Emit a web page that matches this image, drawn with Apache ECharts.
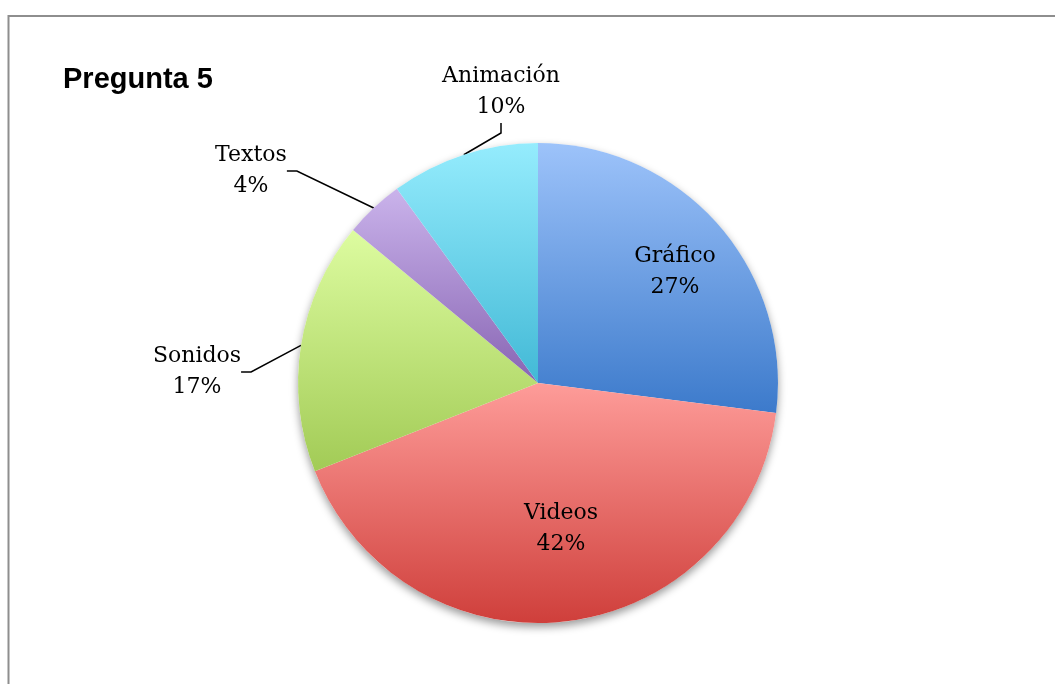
<!DOCTYPE html>
<html>
<head>
<meta charset="utf-8">
<title>Pregunta 5</title>
<script src="https://cdn.jsdelivr.net/npm/echarts@6/dist/echarts.min.js"></script>
<style>
  html, body { margin: 0; padding: 0; background: #ffffff; }
  #chart { width: 1055px; height: 684px; }
</style>
</head>
<body>
<div id="chart"></div>
<script>
// Answers to question 5, in percent, clockwise from 12 o'clock
const categories = ['Gráfico', 'Videos', 'Sonidos', 'Textos', 'Animación'];
const values = [27, 42, 17, 4, 10];

// Top / bottom colours of each slice's vertical gradient
const topColors = ['#9dc3fa', '#fe9c99', '#ddfca0', '#cab3eb', '#95ecfd'];
const bottomColors = ['#3c7acb', '#cf3f3b', '#a2cb56', '#8865b3', '#42b9d6'];

// Where each label block sits (centre of the two text lines)
const labelSpots = [
  { x: 675, y: 272 },
  { x: 561, y: 529 },
  { x: 197, y: 372 },
  { x: 251, y: 171 },
  { x: 501, y: 92 }
];
const outsideLabel = [false, false, true, true, true];

const total = values.reduce((a, b) => a + b, 0);
const pieCenter = [538, 383];
const pieRadius = 240;

const chart = echarts.init(document.getElementById('chart'));

const seriesData = categories.map((name, i) => ({
  name: name,
  value: values[i],
  itemStyle: {
    borderWidth: 0,
    color: {
      type: 'linear', x: 0, y: 0, x2: 0, y2: 1,
      colorStops: [
        { offset: 0, color: topColors[i] },
        { offset: 1, color: bottomColors[i] }
      ]
    }
  },
  labelLine: { show: outsideLabel[i] }
}));

chart.setOption({
  animation: false,
  backgroundColor: '#ffffff',
  title: {
    text: 'Pregunta 5',
    left: 63,
    top: 65,
    padding: 0,
    textStyle: {
      fontFamily: 'Liberation Sans, Arial, sans-serif',
      fontWeight: 'bold',
      fontSize: 29,
      color: '#000000'
    }
  },
  graphic: [{
    type: 'rect',
    shape: { x: 8.5, y: 16, width: 1100, height: 700 },
    style: { fill: 'none', stroke: '#8e8e8e', lineWidth: 2 },
    silent: true
  }],
  series: [
    // whole-disc backdrop that carries the drop shadow under the pie
    {
      type: 'pie',
      z: 1,
      silent: true,
      center: pieCenter,
      radius: pieRadius,
      data: [{ value: total, name: '' }],
      label: { show: false },
      labelLine: { show: false },
      itemStyle: {
        borderWidth: 0,
        color: '#ffffff',
        shadowColor: 'rgba(0,0,0,0.4)',
        shadowBlur: 9,
        shadowOffsetY: 4
      },
      emphasis: { disabled: true }
    },
    {
      type: 'pie',
      z: 2,
      center: pieCenter,
      radius: pieRadius,
      startAngle: 90,
      clockwise: true,
      data: seriesData,
      itemStyle: { borderWidth: 0 },
      label: {
        show: true,
        position: 'outside',
        formatter: p => p.name + '\n' + p.value + '%',
        fontFamily: 'DejaVu Serif, serif',
        fontSize: 22,
        lineHeight: 31,
        color: '#000000',
        align: 'center'
      },
      labelLine: {
        show: true,
        length: 30,
        length2: 10,
        smooth: false,
        lineStyle: { color: '#000000', width: 1.5 }
      },
      labelLayout: function (params) {
        const s = labelSpots[params.dataIndex];
        return { x: s.x, y: s.y, align: 'center', verticalAlign: 'middle' };
      }
    }
  ]
});
</script>
</body>
</html>
